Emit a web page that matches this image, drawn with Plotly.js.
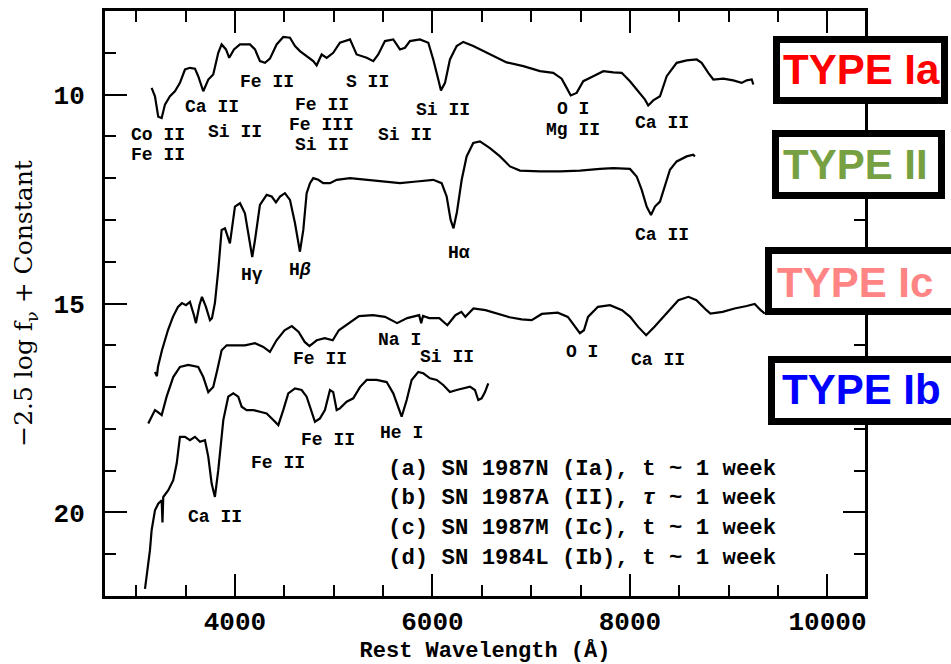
<!DOCTYPE html>
<html><head><meta charset="utf-8">
<script src="https://cdn.plot.ly/plotly-3.0.1.min.js"></script>
<style>body{margin:0;background:#fff}#chart{width:951px;height:664px}</style>
</head><body><div id="chart"></div>
<script>
// Spectrum (a) SN 1987N, Type Ia
const waveIa = [3156,3190,3223,3258,3291,3342,3392,3443,3494,3544,3595,3628,3679,3730,3780,3831,3865,3909,3942,3990,4051,4152,4203,4253,4304,4354,4422,4489,4557,4608,4658,4726,4793,4827,4878,4929,4995,5063,5165,5232,5283,5334,5401,5451,5519,5603,5671,5722,5772,5873,5958,6008,6059,6086,6127,6177,6245,6312,6413,6582,6751,6920,7089,7223,7308,7359,7400,7460,7527,7628,7730,7831,7916,8000,8084,8152,8185,8236,8304,8372,8473,8574,8676,8726,8793,8844,8945,9046,9131,9182,9233,9249];
const magIa = [9.84,10.04,10.53,10.56,10.24,10.04,9.92,9.72,9.40,9.36,9.38,9.56,9.92,9.64,9.52,9.00,8.80,8.92,9.12,8.92,8.80,8.80,8.92,9.20,9.24,9.14,8.80,8.62,8.64,8.84,8.96,9.08,9.20,9.30,9.04,9.12,9.00,8.76,8.68,9.04,9.08,9.12,9.20,9.04,8.72,8.68,8.92,8.88,8.72,8.68,8.76,9.16,9.64,9.90,9.72,9.16,8.84,8.74,8.84,9.04,9.23,9.32,9.44,9.48,9.62,9.84,10.02,9.96,9.68,9.56,9.44,9.47,9.48,9.68,9.92,10.12,10.26,10.14,10.04,9.56,9.24,9.18,9.16,9.24,9.48,9.64,9.62,9.66,9.72,9.66,9.64,9.76];
// Spectrum (b) SN 1987A, Type II
const waveII = [3190,3210,3220,3261,3321,3372,3423,3463,3504,3544,3585,3605,3640,3666,3706,3747,3767,3797,3831,3865,3899,3949,4000,4051,4101,4145,4175,4203,4253,4321,4372,4415,4456,4506,4557,4608,4658,4692,4726,4760,4793,4844,4894,4962,5030,5165,5334,5502,5671,5840,6008,6093,6144,6184,6213,6248,6296,6346,6413,6481,6582,6684,6785,6886,7089,7291,7494,7696,7831,8000,8068,8119,8169,8213,8253,8304,8355,8405,8473,8574,8641,8658];
const magII = [16.64,16.74,16.52,16.12,15.64,15.32,15.08,14.99,15.04,14.96,15.28,15.47,15.04,14.84,15.08,15.40,15.35,14.99,14.20,13.24,13.20,13.56,12.68,12.60,12.84,13.48,13.89,13.48,12.64,12.40,12.44,12.58,12.44,12.36,12.52,13.08,13.76,13.24,12.36,12.12,12.00,12.04,12.12,12.12,12.04,12.00,12.04,12.08,12.12,12.08,12.04,12.12,12.44,13.00,13.20,12.81,12.04,11.48,11.16,11.12,11.28,11.48,11.72,11.82,11.84,11.84,11.82,11.78,11.76,11.78,11.96,12.28,12.68,12.88,12.68,12.56,12.20,11.80,11.60,11.48,11.44,11.48];
// Spectrum (c) SN 1987M, Type Ic
const waveIc = [3122,3159,3190,3220,3258,3308,3375,3443,3527,3628,3679,3730,3780,3821,3865,3916,4017,4101,4203,4287,4354,4421,4502,4576,4645,4706,4754,4828,4909,4990,5052,5153,5256,5398,5520,5642,5744,5865,5886,5904,5968,6069,6151,6232,6293,6333,6415,6537,6659,6781,6903,7005,7107,7269,7371,7432,7493,7534,7575,7676,7798,7920,8002,8083,8164,8246,8368,8490,8592,8673,8775,8815,8938,9059,9182,9263,9324,9365];
const magIc = [17.87,17.70,17.55,17.60,17.67,17.23,16.76,16.52,16.47,16.52,16.76,17.12,17.00,16.59,16.12,16.00,16.00,16.00,15.95,16.04,16.16,15.88,15.64,15.54,15.68,15.92,16.02,15.88,15.83,15.88,15.64,15.47,15.30,15.28,15.32,15.47,15.35,15.28,15.47,15.30,15.35,15.35,15.52,15.28,15.20,15.32,15.12,15.16,15.24,15.33,15.38,15.40,15.25,15.22,15.32,15.52,15.71,15.64,15.32,15.08,15.04,15.16,15.32,15.56,15.76,15.56,15.24,14.92,14.84,14.92,15.16,15.24,15.20,15.12,15.06,15.01,15.16,15.24];
// Spectrum (d) SN 1984L, Type Ib
const waveIb = [3089,3106,3122,3139,3156,3173,3190,3223,3258,3266,3274,3325,3375,3410,3443,3494,3544,3595,3646,3696,3730,3764,3797,3831,3882,3932,3983,4033,4068,4118,4185,4253,4321,4388,4439,4489,4540,4608,4675,4726,4777,4810,4861,4911,4962,4995,5030,5063,5131,5198,5266,5334,5435,5536,5603,5654,5688,5739,5789,5856,5907,5975,6043,6109,6177,6245,6312,6380,6430,6464,6498,6532,6565];
const magIb = [21.83,21.55,21.23,20.91,20.43,20.19,19.95,19.79,19.71,20.24,19.63,19.47,19.23,18.83,18.19,18.19,18.27,18.19,18.31,18.27,18.67,19.31,19.63,18.99,17.79,17.23,17.15,17.23,17.47,17.55,17.55,17.59,17.63,17.79,17.91,17.55,17.15,17.03,17.07,17.23,17.63,17.83,17.75,17.55,17.07,17.12,17.55,17.51,17.35,17.27,17.00,16.83,16.83,16.88,17.15,17.47,17.71,17.31,16.83,16.64,16.67,16.79,16.83,16.95,17.12,17.07,17.03,16.99,17.07,17.31,17.27,17.12,16.91];

// Line identification labels: text, wavelength, magnitude
const lineLabelText = ['Co II','Fe II','Ca II','Si II','Fe II','Fe II','Fe III','Si II','S II','Si II','Si II','O I','Mg II','Ca II',
  'H\u03b3','H<i>\u03b2</i>','H\u03b1','Ca II',
  'Fe II','Na I','Si II','O I','Ca II',
  'Fe II','He I','Fe II','Ca II'];
const lineLabelWave = [3220,3220,3767,4000,4324,4881,4881,4881,5347,5722,6107,7423,7423,8324,
  4172,4658,6268,8324,
  4861,5671,6147,7514,8284,
  4942,5691,4435,3797];
const lineLabelMag = [10.97,11.45,10.29,10.89,9.69,10.25,10.72,11.20,9.69,10.96,10.38,10.35,10.85,10.67,
  14.32,14.20,13.79,13.36,
  16.33,15.88,16.28,16.16,16.35,
  18.27,18.11,18.82,20.12];

const legendText = ['(a) SN 1987N (Ia), t ~ 1 week','(b) SN 1987A (II), <i>\u03c4</i> ~ 1 week','(c) SN 1987M (Ic), t ~ 1 week','(d) SN 1984L (Ib), t ~ 1 week'];
const legendMag = [18.97,19.66,20.38,21.08];
const legendWave = 5529;

const typeNames = ['TYPE Ia','TYPE II','TYPE Ic','TYPE Ib'];
const typeColors = ['#ff0000','#77a043','#ff8585','#0000ff'];

const mono = 'Liberation Mono, Courier New, monospace';
const series = [[waveIa,magIa],[waveII,magII],[waveIc,magIc],[waveIb,magIb]];
const traces = series.map(([x,y]) => ({x:x, y:y, type:'scatter', mode:'lines', line:{color:'#000', width:2.2}, hoverinfo:'skip'}));

const annotations = [];
lineLabelText.forEach((t,i) => annotations.push({x:lineLabelWave[i], y:lineLabelMag[i], xref:'x', yref:'y', text:t, showarrow:false,
  xanchor:'center', yanchor:'middle', font:{family:mono, size:18, weight:'bold', color:'#000'}}));
legendText.forEach((t,i) => annotations.push({x:legendWave, y:legendMag[i], xref:'x', yref:'y', text:t, showarrow:false, xanchor:'left', yanchor:'middle',
  font:{family:mono, size:22.3, weight:'bold', color:'#000'}}));

// type boxes: outer pixel frame converted to paper coordinates of the plot area
const PX0 = 105, PW = 760, PY1 = 596, PH = 585;
const boxLeft = [773, 772, 765, 768], boxTop = [36, 130, 247, 356];
const boxW = [175, 173, 200, 200], boxH = [68, 69, 68, 69];
const txtCx = [861, 855, 855, 861], txtCy = [70, 165, 282, 390];
const BW = 7, h = BW/2;
const shapes = typeNames.map((n,i) => ({type:'rect', xref:'paper', yref:'paper', layer:'above',
  x0:(boxLeft[i]+h-PX0)/PW, x1:(boxLeft[i]+boxW[i]-h-PX0)/PW,
  y0:(PY1-(boxTop[i]+boxH[i]-h))/PH, y1:(PY1-(boxTop[i]+h))/PH,
  line:{color:'#000', width:BW}, fillcolor:'#fff'}));
typeNames.forEach((n,i) => annotations.push({
  x:(txtCx[i]-PX0)/PW, y:(PY1-txtCy[i])/PH, xref:'paper', yref:'paper', xanchor:'center', yanchor:'middle',
  text:n, showarrow:false, font:{family:'Liberation Sans, Arial, sans-serif', size:42, weight:'bold', color:typeColors[i]}}));

const layout = {
  width:951, height:664, margin:{l:105, r:86, t:11, b:68},
  paper_bgcolor:'#fff', plot_bgcolor:'#fff', showlegend:false,
  xaxis:{range:[2684,10380], tickvals:[4000,6000,8000,10000], ticktext:['4000','6000','8000','10000'],
    ticks:'inside', ticklen:22, tickwidth:2, tickcolor:'#000',
    minor:{dtick:500, tick0:0, ticks:'inside', ticklen:11, tickwidth:2, tickcolor:'#000'},
    showline:true, linewidth:3, linecolor:'#000', mirror:'allticks', showgrid:false, zeroline:false,
    tickfont:{family:mono, size:26, weight:'bold', color:'#000'},
    title:{text:'Rest Wavelength (\u00c5)', font:{family:mono, size:22, weight:'bold', color:'#000'}, standoff:6}},
  yaxis:{range:[22,8], tickvals:[10,15,20], ticktext:['10','15','20'],
    ticks:'inside', ticklen:22, tickwidth:2, tickcolor:'#000',
    minor:{dtick:1, tick0:0, ticks:'inside', ticklen:11, tickwidth:2, tickcolor:'#000'},
    showline:true, linewidth:3, linecolor:'#000', mirror:'allticks', showgrid:false, zeroline:false,
    ticklabelstandoff:12,
    tickfont:{family:mono, size:26, weight:'bold', color:'#000'},
    title:{text:'\u22122.5 log f<sub>\u03bd</sub> + Constant', font:{family:'DejaVu Serif, serif', size:25, color:'#000'}, standoff:14}},
  annotations:annotations, shapes:shapes
};
Plotly.newPlot('chart', traces, layout, {displayModeBar:false, staticPlot:true});
</script></body></html>
